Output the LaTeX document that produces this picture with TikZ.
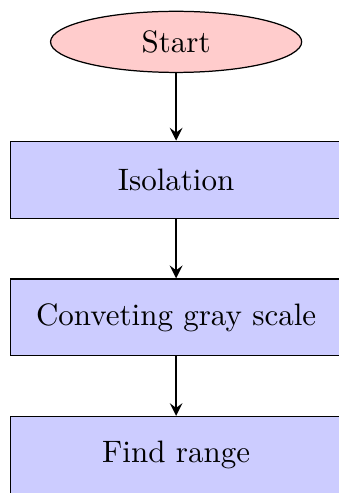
\documentclass[tikz,border=0pt]{standalone}
\usepackage{tikz}
\usetikzlibrary{shapes.geometric, arrows, positioning}
\tikzstyle{startstop} = [ellipse, minimum width=81pt, minimum
height=17.5pt, text centered, draw=black, fill=red!20]
\tikzstyle{process} =
[rectangle, minimum width=107pt, minimum height=24.8pt, text centered,
draw=black, fill=blue!20]
\tikzstyle{arrow} =
[thick,->,>=stealth]

\begin{document}
\begin{tikzpicture}[node distance=19.2pt]

\useasboundingbox (0,0) rectangle (109.3pt,-159pt);

\node(start)[startstop] at (56.8pt,-13.5pt){Start};
\node(isol)[process, below=21.8pt of start]{Isolation};
\node(gray)[process, below=of isol]{Conveting gray scale};
\node(range)[process, below=of gray]{Find range};

\draw[arrow](start) -- (isol);
\draw[arrow](isol) -- (gray);
\draw[arrow](gray) -- (range);

\end{tikzpicture}
\end{document}
